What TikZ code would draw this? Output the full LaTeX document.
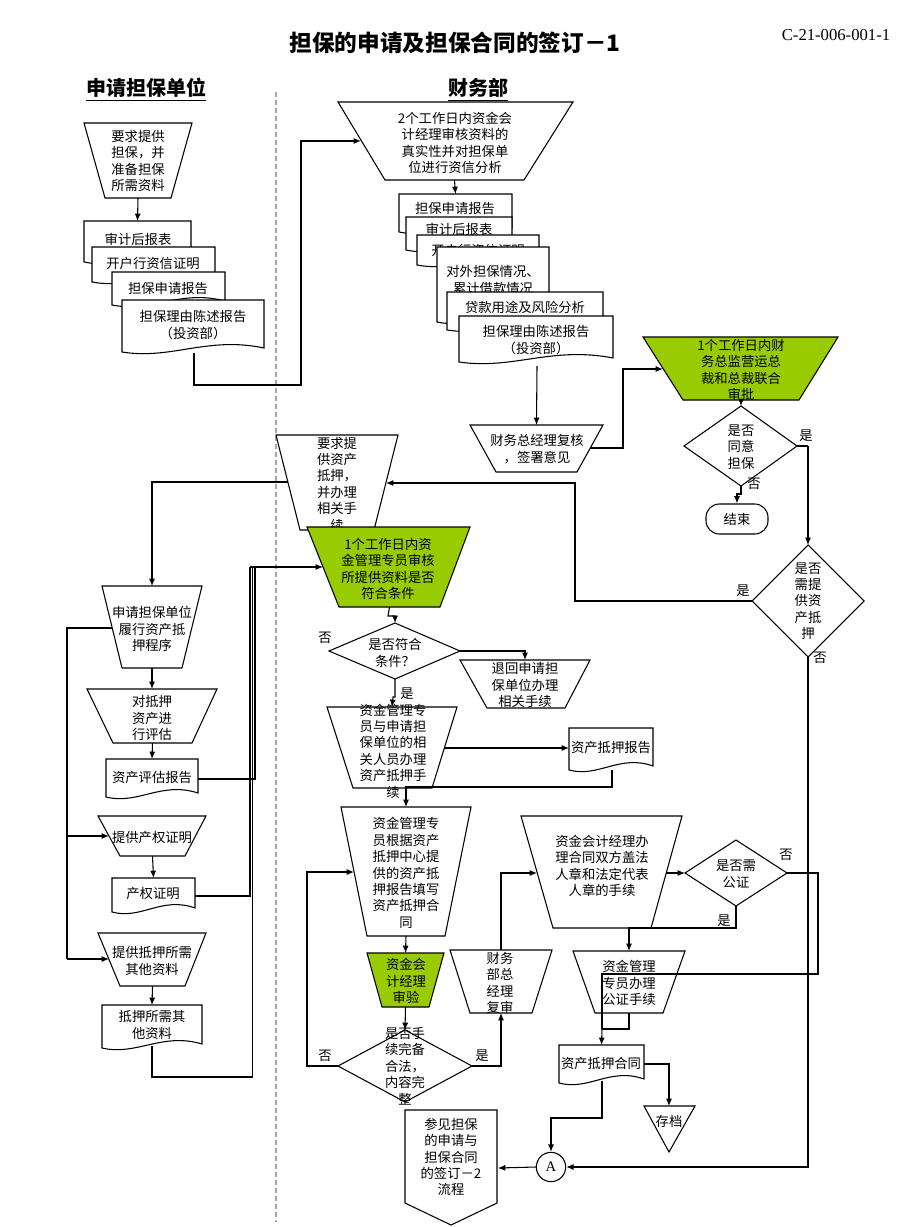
\documentclass[tikz,border=0pt]{standalone}
\usepackage{fontspec}
\setmainfont{Liberation Serif}
\newfontfamily\cjk{Noto Sans CJK SC}
\usetikzlibrary{arrows.meta}
\definecolor{ggreen}{RGB}{153,204,0}
\tikzset{
 shp/.style={draw=black,line width=0.8pt,fill=white},
 gshp/.style={draw=black,line width=0.8pt,fill=ggreen},
 txt/.style={font=\cjk\fontsize{10}{12.3}\selectfont,align=center,inner sep=0pt},
 lbl/.style={font=\cjk\fontsize{10}{12}\selectfont,inner sep=0pt},
 ln/.style={draw=black,line width=0.8pt},
 con/.style={ln,-{Latex[length=5.5pt,width=4.5pt]}},
}
% trapezoid: name, top-left x, top-right x, top y, bottom-left x, bottom-right x, bottom y, style
\newcommand\trap[8]{%
 \path[#8] (#2,#4) -- (#3,#4) -- (#6,#7) -- (#5,#7) -- cycle;
 \coordinate (#1-t) at ({(#2+#3)/2},#4);
 \coordinate (#1-b) at ({(#5+#6)/2},#7);}
% document: name, x1, y1, x2, y2 (bottom-left), style
\newcommand\docu[6]{%
 \path[#6] (#2,#3) -- (#4,#3) -- (#4,#5-4) .. controls ({#2+0.6*(#4-#2)},#5-16) and ({#2+0.35*(#4-#2)},#5+8) .. (#2,#5) -- cycle;
 \coordinate (#1-t) at ({(#2+#4)/2},#3);}
\begin{document}
\begin{tikzpicture}[x=0.75pt,y=-0.75pt]
\useasboundingbox (0,0) rectangle (920,1227);

% titles
\node[font=\cjk\bfseries\fontsize{17}{20}\selectfont,inner sep=0pt] (title) at (455,43) {担保的申请及担保合同的签订－1};
\node[font=\fontsize{12.5}{14}\selectfont,inner sep=0pt] (code) at (836,35) {C-21-006-001-1};
\node[font=\cjk\bfseries\fontsize{15}{18}\selectfont,inner sep=0pt] (h1) at (146,88) {申请担保单位};
\node[font=\cjk\bfseries\fontsize{15}{18}\selectfont,inner sep=0pt] (h2) at (478,88) {财务部};
\draw[line width=0.9pt] (h1.south west) ++(0,-2pt) coordinate (u1a) -- (u1a -| h1.south east);
\draw[line width=0.9pt] (h2.south west) ++(0,-2pt) coordinate (u2a) -- (u2a -| h2.south east);
\coordinate (sepA) at (276,92);
\coordinate (sepB) at (276,1222);
\draw[gray!70,line width=0.8pt,dash pattern=on 4pt off 2pt] (sepA) -- (sepB);

% ---------- left top ----------
\trap{T1}{84}{192}{123}{105}{171}{198}{shp}
\node[txt] (tT1) at (138,161) {要求提供\\担保，并\\准备担保\\所需资料};
\docu{D1}{84}{221}{191}{262}{shp}
\node[txt] (tD1) at (138,239) {审计后报表};
\docu{D2}{92}{247}{215}{282}{shp}
\node[txt] (tD2) at (153,263) {开户行资信证明};
\docu{D3}{112}{272}{225}{305}{shp}
\node[txt] (tD3) at (168,288) {担保申请报告};
\docu{D4}{122}{300}{264}{352}{shp}
\node[txt] (tD4) at (193,325) {担保理由陈述报告\\（投资部）};
\coordinate (D4-b) at (194,353);

% ---------- center top ----------
\trap{T2}{338}{573}{102}{385}{524}{180}{shp}
\node[txt] (tT2) at (455,143) {2个工作日内资金会\\计经理审核资料的\\真实性并对担保单\\位进行资信分析};
\coordinate (T2-l) at (361,141);
\docu{R1}{399}{194}{512}{232}{shp}
\node[txt] (tR1) at (455,208) {担保申请报告};
\docu{R2}{406}{217}{512}{250}{shp}
\node[txt] (tR2) at (459,229) {审计后报表};
\docu{R3}{417}{235}{539}{265}{shp}
\node[txt] (tR3) at (478,250) {开户行资信证明};
\docu{R4}{437}{247}{549}{322}{shp}
\node[txt] (tR4) at (493,280) {对外担保情况、\\累计借款情况};
\docu{R5}{447}{292}{603}{330}{shp}
\node[txt] (tR5) at (525,307) {贷款用途及风险分析};
\docu{R6}{459}{316}{613}{362}{shp}
\node[txt] (tR6) at (536,340) {担保理由陈述报告\\（投资部）};
\coordinate (R6-b) at (537,366);

\trap{T3}{470}{603}{425}{496}{577}{472}{shp}
\node[txt] (tT3) at (537,449) {财务总经理复核\\，签署意见};
\coordinate (T3-r) at (590,448);

% green approval
\trap{G1}{643}{838}{337}{683}{799}{400}{gshp}
\node[txt] (tG1) at (741,370) {1个工作日内财\\务总监营运总\\裁和总裁联合\\审批};
\coordinate (G1-l) at (663,369);

% diamond agree
\path[shp] (741,406) coordinate (DM1-t) -- (797,446) coordinate (DM1-r) -- (741,486) coordinate (DM1-b) -- (684,446) -- cycle;
\node[txt] (tDM1) at (741,447) {是否\\同意\\担保};
\node[lbl] (yes1) at (806,436) {是};
\node[lbl] (no1) at (754,484) {否};
\node[shp,txt,rounded corners=10pt,minimum width=46.5pt,minimum height=22.5pt] (end) at (737,519) {结束};

% diamond need mortgage
\path[shp] (808,545) coordinate (DM2-t) -- (864,601) -- (808,657) coordinate (DM2-b) -- (752,601) coordinate (DM2-l) -- cycle;
\node[txt] (tDM2) at (808,601) {是否\\需提\\供资\\产抵\\押};
\node[lbl] (yes2) at (743,591) {是};
\node[lbl] (no2) at (820,658) {否};

% request mortgage
\trap{T4}{276}{398}{435}{300}{374}{530}{shp}
\node[txt] (tT4) at (337,484) {要求提\\供资产\\抵押，\\并办理\\相关手\\续};
\coordinate (T4-r) at (386,483);
\coordinate (T4-l) at (288,482);

\trap{G2}{307}{470}{527}{339}{440}{607}{gshp}
\node[txt] (tG2) at (388,569) {1个工作日内资\\金管理专员审核\\所提供资料是否\\符合条件};
\coordinate (G2-l) at (323,567);

\path[shp] (395,623) coordinate (DM3-t) -- (460,651) coordinate (DM3-r) -- (395,679) coordinate (DM3-b) -- (329,651) -- cycle;
\node[txt] (tDM3) at (395,653) {是否符合\\条件？};
\node[lbl] (no3) at (325,638) {否};
\node[lbl] (yes3) at (407,694) {是};

\trap{T5}{460}{590}{660}{487}{565}{708}{shp}
\node[txt] (tT5) at (525,685) {退回申请担\\保单位办理\\相关手续};

\trap{T6}{327}{457}{707}{353}{432}{788}{shp}
\node[txt] (tT6) at (393,751) {资金管理专\\员与申请担\\保单位的相\\关人员办理\\资产抵押手\\续};
\coordinate (T6-r) at (444,748);

\docu{D5}{569}{728}{653}{770}{shp}
\node[txt] (tD5) at (611,747) {资产抵押报告};
\coordinate (D5-b) at (612,770);

\trap{T7}{341}{471}{807}{367}{445}{936}{shp}
\node[txt] (tT7) at (406,873) {资金管理专\\员根据资产\\抵押中心提\\供的资产抵\\押报告填写\\资产抵押合\\同};
\coordinate (T7-l) at (354,872);

\trap{G3}{367}{444}{953}{382}{429}{1007}{gshp}
\node[txt] (tG3) at (406,981) {资金会\\计经理\\审验};

\path[shp] (405,1030) coordinate (DM4-t) -- (472,1066) coordinate (DM4-r) -- (405,1102) -- (338,1066) coordinate (DM4-l) -- cycle;
\node[txt] (tDM4) at (405,1066) {是否手\\续完备\\合法，\\内容完\\整};
\node[lbl] (no4) at (325,1056) {否};
\node[lbl] (yes4) at (482,1056) {是};

\trap{T8}{450}{552}{950}{470}{532}{1013}{shp}
\node[txt] (tT8) at (500,983) {财务\\部总\\经理\\复审};

\trap{T9}{521}{682}{816}{553}{651}{928}{shp}
\node[txt] (tT9) at (602,866) {资金会计经理办\\理合同双方盖法\\人章和法定代表\\人章的手续};
\coordinate (T9-l) at (537,873);
\coordinate (T9-r) at (666,873);

\path[shp] (736,840) -- (787,873) coordinate (DM5-r) -- (736,906) coordinate (DM5-b) -- (685,873) coordinate (DM5-l) -- cycle;
\node[txt] (tDM5) at (736,874) {是否需\\公证};
\node[lbl] (no5) at (786,855) {否};
\node[lbl] (yes5) at (724,921) {是};

\trap{T10}{573}{685}{951}{595}{663}{1013}{shp}
\node[txt] (tT10) at (629,983) {资金管理\\专员办理\\公证手续};

\docu{D6}{559}{1045}{644}{1083}{shp}
\node[txt] (tD6) at (601,1063) {资产抵押合同};
\coordinate (D6-r) at (644,1064);
\coordinate (D6-b) at (602,1081);

\path[shp] (644,1106) coordinate (arc-tl) -- (695,1106) -- (669,1152) -- cycle;
\coordinate (arc-t) at (669,1106);
\node[txt] (tarc) at (669,1121) {存档};

\node[draw,line width=0.8pt,fill=white,circle,minimum size=22pt,inner sep=0pt,font=\fontsize{11}{12}\selectfont] (A) at (551,1167) {A};

\path[shp] (405,1110) -- (497,1110) -- (497,1203) -- (451,1225) -- (405,1203) -- cycle;
\coordinate (P-r) at (498,1168);
\node[txt] (tP) at (451,1157) {参见担保\\的申请与\\担保合同\\的签订－2\\流程};

% ---------- left lower ----------
\trap{T11}{102}{202}{586}{122}{182}{668}{shp}
\node[txt] (tT11) at (152,629) {申请担保单位\\履行资产抵\\押程序};
\coordinate (T11-l) at (112,628);
\trap{T12}{87}{217}{689}{113}{192}{743}{shp}
\node[txt] (tT12) at (152,718) {对抵押\\资产进\\行评估};
\docu{D7}{106}{759}{198}{797}{shp}
\node[txt] (tD7) at (152,777) {资产评估报告};
\trap{T13}{98}{206}{816}{120}{185}{856}{shp}
\node[txt] (tT13) at (152,837) {提供产权证明};
\coordinate (T13-l) at (109,836);
\docu{D8}{112}{878}{195}{912}{shp}
\node[txt] (tD8) at (153,893) {产权证明};
\trap{T14}{98}{206}{933}{120}{185}{986}{shp}
\node[txt] (tT14) at (152,961) {提供抵押所需\\其他资料};
\coordinate (T14-l) at (109,959);
\docu{D9}{102}{1005}{202}{1048}{shp}
\node[txt] (tD9) at (152,1025) {抵押所需其\\他资料};

% ---------- connectors ----------
\draw[con] (T1-b) -- (D1-t);
\draw[con] (D4-b) -- (194,385) -- (301,385) -- (301,141) -- (T2-l);
\draw[con] (T2-b) -- (R1-t);
\draw[con] (R6-b) -- (T3-t);
\draw[con] (T3-r) -- (623,448) -- (623,369) -- (G1-l);
\draw[con] (G1-b) -- (DM1-t);
\draw[ln] (DM1-r) -- (808,446);
\draw[con] (808,446) -- (DM2-t);
\draw[con] (DM1-b) -- (741,494) -- (737,494) -- (end.north);
\draw[con] (DM2-l) -- (575,601) -- (575,483) -- (T4-r);
\draw[con] (DM2-b) -- (808,1167) -- (A.east);
\draw[con] (T4-l) -- (152,482) -- (T11-t);
\draw[con] (G2-b) -- (388,616) -- (395,616) -- (DM3-t);
\draw[con] (DM3-r) -- (525,651) -- (T5-t);
\draw[con] (DM3-b) -- (395,697) -- (393,697) -- (T6-t);
\draw[con] (T6-r) -- (569,748);
\draw[con] (D5-b) -- (612,787) -- (406,787) -- (T7-t);
\draw[con] (T7-b) -- (G3-t);
\draw[con] (G3-b) -- (DM4-t);
\draw[con] (DM4-l) -- (307,1066) -- (307,872) -- (T7-l);
\draw[con] (DM4-r) -- (501,1066) -- (T8-b);
\draw[con] (T8-t) -- (501,873) -- (T9-l);
\draw[con] (T9-r) -- (DM5-l);
\draw[con] (DM5-b) -- (736,928) -- (629,928) -- (T10-t);
\draw[ln] (DM5-r) -- (818,873) -- (818,974) -- (602,974) -- (602,1029);
\draw[ln] (T10-b) -- (629,1029) -- (602,1029);
\draw[con] (602,1029) -- (D6-t);
\draw[con] (D6-r) -- (669,1064) -- (arc-t);
\draw[con] (D6-b) -- (602,1118) -- (551,1118) -- (A.north);
\draw[con] (A.west) -- (P-r);
% left lower
\draw[con] (T11-b) -- (T12-t);
\draw[con] (T12-b) -- (D7-t);
\draw[con] (T13-b) -- (D8-t);
\draw[con] (T14-b) -- (D9-t);
\draw[ln] (T11-l) -- (67,628) -- (67,959);
\draw[con] (67,836) -- (T13-l);
\draw[con] (67,959) -- (T14-l);
\draw[ln] (198,779) -- (255,779) -- (255,567);
\draw[ln] (195,896) -- (250,896) -- (250,567);
\draw[ln] (152,1046) -- (152,1077) -- (252.5,1077) -- (252.5,567);
\draw[con] (250,567) -- (G2-l);
\end{tikzpicture}
\end{document}
